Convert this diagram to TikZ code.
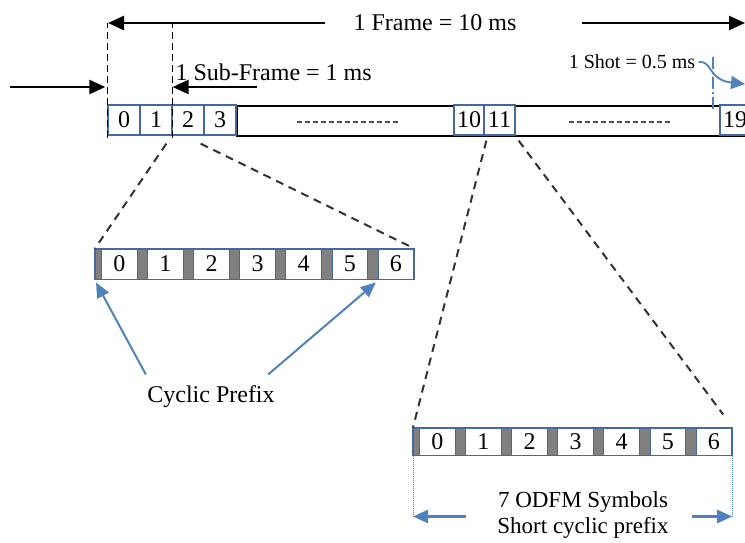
\documentclass[tikz,border=0pt]{standalone}
\usepackage{fontspec}
\setmainfont{Liberation Serif}
\usepackage{xcolor}
\usetikzlibrary{arrows.meta}
\definecolor{boxblue}{RGB}{68,104,160}
\definecolor{arrblue}{RGB}{79,129,189}
\definecolor{cpgray}{RGB}{128,128,128}
\definecolor{dashcol}{RGB}{70,80,110}

\begin{document}
\begin{tikzpicture}[x=1pt, y=-1pt,
    every node/.style={font=\fontsize{24}{26}\selectfont},
    fslot/.style={draw=boxblue, line width=1.3pt, fill=white, minimum width=32pt, minimum height=30pt, inner sep=0pt},
    sym/.style={draw=boxblue, line width=1pt, fill=white, minimum width=35.6pt, inner sep=0pt},
    cp/.style={draw=boxblue, line width=1pt, fill=cpgray, inner sep=0pt},
    blk/.style={line width=2.5pt, -{Triangle[length=16pt,width=14pt]}},
    bluearr/.style={arrblue, line width=2pt, -{Triangle[length=15pt,width=13pt]}},
    zoomline/.style={line width=2pt, black!80, dash pattern=on 8pt off 6pt}]
  \clip (0,0) rectangle (745,542);

  % the frame: long box first, slots on top
  \draw[line width=2pt] (237,106) rectangle (760,136);
  \node[fslot] (f0) at (124,120) {0};
  \node[fslot] (f1) at (156,120) {1};
  \node[fslot] (f2) at (188,120) {2};
  \node[fslot] (f3) at (220,120) {3};
  \node[fslot, minimum width=30pt] (f10) at (469,120) {10};
  \node[fslot, minimum width=31pt] (f11) at (499.5,120) {11};
  \node[fslot, minimum width=30pt] (f19) at (735,120) {19};
  \draw[dashcol, line width=1.5pt, dash pattern=on 5pt off 3pt] (297,122) -- (399,122);
  \draw[dashcol, line width=1.5pt, dash pattern=on 5pt off 3pt] (569,122) -- (670,122);

  % frame length
  \node (frame) at (435,23) {1 Frame = 10 ms};
  \coordinate (fl) at (108,23);
  \coordinate (fr) at (745,23);
  \draw[blk] ([xshift=-25pt]frame.west) -- (fl);
  \draw[blk] ([xshift=62pt]frame.east) -- (fr);
  \draw[line width=1.5pt, dash pattern=on 7pt off 4pt] ([yshift=-2pt]f0.south west) -- (f0.south west |- fl);
  \draw[line width=1.5pt, dash pattern=on 7pt off 4pt] ([yshift=-2pt]f1.south east) -- (f1.south east |- fl);

  % sub-frame
  \coordinate (inl) at (10,87);
  \coordinate (subr) at (257,87);
  \draw[blk, shorten >=2pt] (inl) -- (f0.west |- inl);
  \node[anchor=west] (sub) at (172,72) {1 Sub-Frame = 1 ms};
  \draw[blk] (subr) -- (f1.east |- subr);

  % shot
  \node[font=\fontsize{20}{22}\selectfont] (shot) at (632,62) {1 Shot = 0.5 ms};
  \draw[arrblue, line width=1.2pt, dash pattern=on 12pt off 3pt on 2pt off 3pt] (713,57) -- (713,111);
  \coordinate (shottip) at (745,84);
  \draw[arrblue, line width=1.8pt, -{Triangle[length=14pt,width=13pt]}] (shot.east) .. controls (712,60) and (708,80) .. (shottip);

  % symbol rows
  \foreach \r/\xo/\yc/\h in {1/95/264/30, 2/413/441.5/27} {
    \node[cp, minimum width=6pt, minimum height=\h pt, anchor=west] (r\r-c0) at (\xo,\yc) {};
    \foreach \i in {0,...,6} {
      \pgfmathsetmacro\xs{\xo+6+\i*46.1}
      \node[sym, minimum height=\h pt, anchor=west] (r\r-s\i) at (\xs,\yc) {\i};
    }
    \foreach \i in {1,...,6} {
      \pgfmathsetmacro\xc{\xo+6+\i*46.1-10.5}
      \node[cp, minimum width=10.5pt, minimum height=\h pt, anchor=west] (r\r-c\i) at (\xc,\yc) {};
    }
    \draw[boxblue, line width=1.3pt] (r\r-c0.north west) rectangle (r\r-s6.south east);
  }

  \draw[zoomline] ([shift={(-5pt,-8pt)}]f2.south west) -- (r1-c0.north west);
  \draw[zoomline] ([shift={(-4pt,-8pt)}]f2.south east) -- (r1-s6.north east);
  \draw[zoomline] ([shift={(3pt,-5pt)}]f11.south west) -- (r2-c0.north west);
  \draw[zoomline] ([shift={(3pt,-5pt)}]f11.south east) -- ([shift={(-9pt,13pt)}]r2-s6.north east);

  % cyclic prefix
  \node (cyc) at (211,397) {Cyclic Prefix};
  \draw[bluearr] ([shift={(2pt,8pt)}]cyc.north west) -- ([shift={(1pt,-3pt)}]r1-c0.south west);
  \draw[bluearr] ([shift={(-10pt,8pt)}]cyc.north east) -- ([shift={(3pt,-3pt)}]r1-c6.south);

  % TODO: check width of the symbol text
  \node[align=center, font=\fontsize{23}{26}\selectfont] (odfm) at (583,515) {7 ODFM Symbols\\Short cyclic prefix};
  \coordinate (al) at ([yshift=-61pt]r2-c0.south west);
  \coordinate (ar) at ([yshift=-61pt]r2-s6.south east);
  \draw[arrblue, line width=1pt, densely dotted] (r2-c0.south west) -- (al);
  \draw[arrblue, line width=1pt, densely dotted] (r2-s6.south east) -- (ar);
  \draw[bluearr, line width=2.5pt] ([xshift=53pt]al) -- (al);
  \draw[bluearr, line width=2.5pt] ([xshift=-40pt]ar) -- (ar);
\end{tikzpicture}
\end{document}
